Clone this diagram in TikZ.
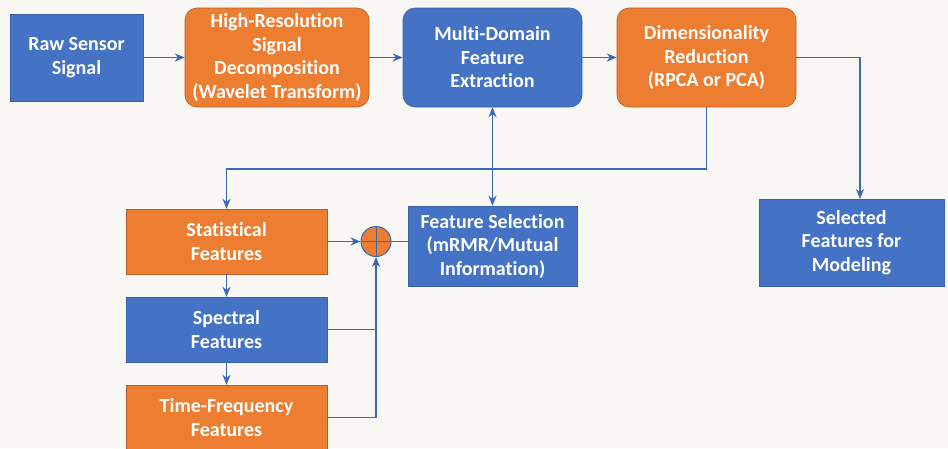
\documentclass[tikz,border=0pt]{standalone}
\usepackage{fontspec}
\setmainfont[Ligatures=NoCommon]{Carlito}
\usetikzlibrary{arrows.meta,calc}
\definecolor{bg}{HTML}{F8F7F3}
\definecolor{boxblue}{HTML}{4472C4}
\definecolor{boxorange}{HTML}{ED7D31}
\definecolor{lineblue}{HTML}{3B67B3}
\begin{document}
\begin{tikzpicture}[x=1pt,y=-1pt,
  box/.style={rectangle, text=white, font=\bfseries\fontsize{20}{23.5}\selectfont, align=center, inner sep=2pt},
  bbox/.style={box, fill=boxblue, draw=boxblue!85!black, line width=0.6pt},
  obox/.style={box, fill=boxorange, draw=boxorange!75!black, line width=0.6pt},
  rnd/.style={rounded corners=12pt},
  conn/.style={draw=lineblue, line width=1.2pt},
  arr/.style={conn, -{Stealth[length=10pt,width=8pt]}},
  darr/.style={conn, {Stealth[length=10pt,width=8pt]}-{Stealth[length=10pt,width=8pt]}},
]
\fill[bg] (0,0) rectangle (948,448);
\useasboundingbox (0,0) rectangle (948,448);

\node[bbox, minimum width=133pt, minimum height=87pt] (raw) at (76.5,57.5) {Raw Sensor\\Signal};
\node[obox, rnd, minimum width=184pt, minimum height=99pt] (hrd) at (277,57.5) {High-Resolution\\Signal\\Decomposition\\(Wavelet Transform)};
\node[bbox, rnd, minimum width=179pt, minimum height=99pt] (mdf) at (492.5,57.5) {Multi-Domain\\Feature\\Extraction};
\node[obox, rnd, minimum width=179pt, minimum height=99pt] (dim) at (706.5,57.5) {Dimensionality\\Reduction\\(RPCA or PCA)};
\node[bbox, minimum width=185pt, minimum height=87pt] (sel) at (851.5,242.5) {Selected\\Features for\\Modeling};

\node[obox, minimum width=201pt, minimum height=65pt] (stat) at (226.5,241.5) {Statistical\\Features};
\node[bbox, minimum width=201pt, minimum height=65pt] (spec) at (226.5,329.5) {Spectral\\Features};
\node[obox, minimum width=201pt, minimum height=65pt] (tf) at (226.5,417.5) {Time-Frequency\\Features};
\node[bbox, minimum width=169pt, minimum height=80pt] (fs) at (492.5,246) {Feature Selection\\(mRMR/Mutual\\Information)};

\node[circle, minimum size=30pt, inner sep=0pt, fill=boxorange, draw=lineblue, line width=1pt] (sum) at (376,241.5) {};
\draw[lineblue, line width=1pt] (sum.north) -- (sum.south) (sum.west) -- (sum.east);

\coordinate (selin) at (860,199);
\coordinate (bus) at (706.5,169);

\draw[arr] (raw) -- (hrd);
\draw[arr] (hrd) -- (mdf);
\draw[arr] (mdf) -- (dim);
\draw[arr] (dim.east) -| (selin);
\draw[arr] (dim.south) -- (bus) -| (stat.north);
\draw[darr] (mdf.south) -- (fs.north);
\draw[arr] (stat.east) -- (sum.west);
\draw[conn] (sum.east) -- (fs.west |- sum.east);
\draw[arr] (stat) -- (spec);
\draw[arr] (spec) -- (tf);
\draw[arr] (tf.east) -| (sum.south);
\draw[conn] (spec.east) -- (spec.east -| sum.south);
\end{tikzpicture}
\end{document}
